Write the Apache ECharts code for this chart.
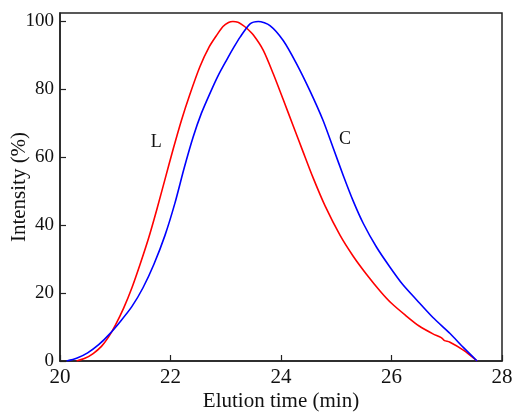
<!DOCTYPE html>
<html>
<head>
<meta charset="utf-8">
<script src="https://cdn.jsdelivr.net/npm/echarts@6/dist/echarts.min.js"></script>
<style>
html,body{margin:0;padding:0;background:#fff;}
#chart{width:513px;height:412px;}
</style>
</head>
<body>
<div id="chart"></div>
<script>
var xTicks = [20, 22, 24, 26, 28];
var yTicks = [0, 20, 40, 60, 80, 100];

var seriesLX = [20.30, 20.45, 20.60, 20.75, 20.88, 21.00, 21.15, 21.30, 21.45, 21.60, 21.75, 21.90, 22.05, 22.20, 22.35, 22.53, 22.70, 22.83, 22.95, 23.05, 23.13, 23.22, 23.30, 23.38, 23.50, 23.68, 23.86, 24.04, 24.22, 24.40, 24.58, 24.80, 25.07, 25.31, 25.55, 25.80, 26.00, 26.25, 26.50, 26.75, 26.90, 26.96, 27.05, 27.30, 27.55];
var seriesLY = [0, 0.8, 2.2, 4.3, 7.1, 10.5, 15.5, 21.5, 28.5, 36.0, 44.5, 53.5, 62.5, 71.0, 78.5, 86.6, 92.5, 95.8, 98.5, 99.7, 100, 99.8, 99.0, 98.0, 96.0, 91.5, 84.6, 77.0, 69.3, 61.6, 54.0, 45.6, 37.0, 30.8, 25.5, 20.5, 17.0, 13.5, 10.3, 8.0, 6.9, 6.0, 5.6, 3.2, 0];

var seriesCX = [20.12, 20.30, 20.50, 20.70, 20.90, 21.10, 21.30, 21.50, 21.70, 21.90, 22.08, 22.25, 22.41, 22.56, 22.71, 22.86, 23.01, 23.15, 23.26, 23.44, 23.59, 23.80, 24.04, 24.28, 24.52, 24.76, 24.95, 25.13, 25.30, 25.49, 25.73, 25.97, 26.20, 26.46, 26.75, 27.06, 27.30, 27.55];
var seriesCY = [0, 0.8, 2.4, 4.8, 8.0, 11.8, 16.0, 21.5, 28.5, 37.0, 46.5, 57.0, 66.0, 73.0, 78.7, 84.0, 88.5, 92.5, 95.4, 99.3, 100, 98.8, 94.4, 87.6, 79.7, 70.9, 62.5, 54.5, 47.4, 40.5, 33.5, 27.7, 22.6, 17.9, 12.8, 8.1, 4.0, 0];

var labelL = {name: 'L', x: 21.74, y: 64.5};
var labelC = {name: 'C', x: 25.16, y: 65.2};

function pairs(xs, ys) { return xs.map(function (x, i) { return [x, ys[i]]; }); }

var serif = "'Liberation Serif', 'Times New Roman', serif";
var chart = echarts.init(document.getElementById('chart'), null, {renderer: 'canvas'});
chart.setOption({
  animation: false,
  backgroundColor: '#ffffff',
  grid: {left: 60, top: 13, width: 442, height: 348, containLabel: false, outerBoundsMode: 'none',
    show: true, borderColor: '#222', borderWidth: 1.5, backgroundColor: 'transparent'},
  xAxis: {
    type: 'value', min: xTicks[0], max: xTicks[xTicks.length - 1], interval: 2,
    name: 'Elution time (min)', nameLocation: 'middle', nameGap: 30, nameMoveOverlap: false,
    nameTextStyle: {fontFamily: serif, fontSize: 21, color: '#111'},
    axisLine: {lineStyle: {color: '#222', width: 1.5}},
    axisTick: {inside: true, length: 6, lineStyle: {color: '#222', width: 1.2}},
    axisLabel: {fontFamily: serif, fontSize: 21, color: '#111', margin: 6},
    splitLine: {show: false}
  },
  yAxis: {
    type: 'value', min: yTicks[0], max: 102.5, interval: 20,
    name: 'Intensity (%)', nameLocation: 'middle', nameGap: 30, nameMoveOverlap: false,
    nameTextStyle: {fontFamily: serif, fontSize: 21, color: '#111'},
    axisLine: {lineStyle: {color: '#222', width: 1.5}},
    axisTick: {inside: true, length: 6, lineStyle: {color: '#222', width: 1.2}},
    axisLabel: {fontFamily: serif, fontSize: 19, color: '#111', margin: 6, showMaxLabel: false,
      formatter: function (v) { return yTicks.indexOf(v) >= 0 ? String(v) : ''; }},
    splitLine: {show: false}
  },
  series: [
    {
      name: 'L', type: 'line', data: pairs(seriesLX, seriesLY), showSymbol: false, smooth: 0.25,
      lineStyle: {color: '#ff0000', width: 1.6}, itemStyle: {color: '#ff0000'},
      markPoint: {symbol: 'circle', symbolSize: 0, silent: true,
        label: {show: true, formatter: labelL.name, fontFamily: serif, fontSize: 18, color: '#111'},
        data: [{coord: [labelL.x, labelL.y]}]}
    },
    {
      name: 'C', type: 'line', data: pairs(seriesCX, seriesCY), showSymbol: false, smooth: 0.25,
      lineStyle: {color: '#0000ff', width: 1.6}, itemStyle: {color: '#0000ff'},
      markPoint: {symbol: 'circle', symbolSize: 0, silent: true,
        label: {show: true, formatter: labelC.name, fontFamily: serif, fontSize: 18, color: '#111'},
        data: [{coord: [labelC.x, labelC.y]}]}
    }
  ]
});
</script>
</body>
</html>
